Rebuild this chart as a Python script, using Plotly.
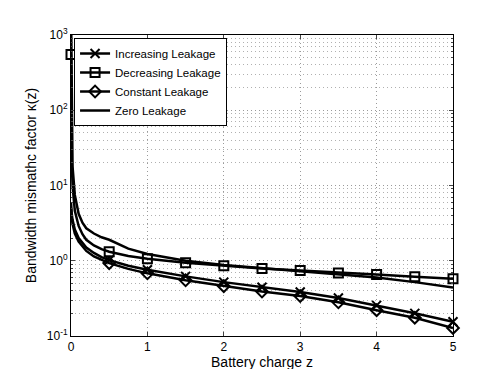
import plotly.graph_objects as go

# battery charge samples (dense, for the smooth curves)
z = [0, 0.001, 0.005, 0.01, 0.02, 0.05, 0.1, 0.15, 0.2, 0.3, 0.4, 0.5, 0.75, 1, 1.5, 2, 2.5, 3, 3.5, 4, 4.5, 5]

increasing = [6.0, 5.5, 4.8, 4.2, 3.5, 2.6, 2.0, 1.72, 1.5, 1.27, 1.12, 1.02, 0.86, 0.76, 0.62, 0.52, 0.445, 0.385, 0.32, 0.255, 0.2, 0.155]
decreasing = [550, 200, 50, 22, 10, 4.6, 2.9, 2.25, 1.9, 1.6, 1.43, 1.32, 1.16, 1.06, 0.94, 0.86, 0.79, 0.74, 0.69, 0.655, 0.615, 0.575]
constant = [5.0, 4.6, 4.2, 3.7, 3.1, 2.3, 1.8, 1.53, 1.35, 1.14, 1.02, 0.93, 0.78, 0.68, 0.55, 0.46, 0.39, 0.34, 0.28, 0.22, 0.175, 0.128]
zero = [None, 2000, 400, 70, 18, 7.5, 4.2, 3.2, 2.7, 2.3, 2.05, 1.9, 1.45, 1.23, 1.0, 0.88, 0.8, 0.73, 0.67, 0.6, 0.52, 0.44]

# markers are drawn every 0.5 (the z=0 one only shows for the decreasing curve)
marker_z = [0.5, 1, 1.5, 2, 2.5, 3, 3.5, 4, 4.5, 5]

y_ticks = [0.1, 1, 10, 100, 1000]
y_ticktext = ['10<sup>-1</sup>', '10<sup>0</sup>', '10<sup>1</sup>', '10<sup>2</sup>', '10<sup>3</sup>']

series = [
    ('Increasing Leakage', increasing, 'x-thin', False),
    ('Decreasing Leakage', decreasing, 'square-open', True),
    ('Constant Leakage', constant, 'diamond-open', False),
    ('Zero Leakage', zero, None, False),
]

fig = go.Figure()
for name, vals, sym, at_zero in series:
    fig.add_trace(go.Scatter(x=z, y=vals, mode='lines', line=dict(color='black', width=2.5),
                             showlegend=False, connectgaps=False))
    if sym:
        keep = [0] + marker_z if at_zero else marker_z
        mz = [x for x in z if x in keep]
        mv = [v for x, v in zip(z, vals) if x in keep]
        fig.add_trace(go.Scatter(x=mz, y=mv, mode='markers', showlegend=False, cliponaxis=False,
                                 marker=dict(symbol=sym, size=9, color='black',
                                             line=dict(color='black', width=2))))
        fig.add_trace(go.Scatter(x=[None], y=[None], mode='lines+markers', name=name,
                                 line=dict(color='black', width=2.5),
                                 marker=dict(symbol=sym, size=9, color='black',
                                             line=dict(color='black', width=2))))
    else:
        fig.add_trace(go.Scatter(x=[None], y=[None], mode='lines', name=name,
                                 line=dict(color='black', width=2.5)))

grid = dict(showgrid=True, gridcolor='#9a9a9a', griddash='1px,3px', gridwidth=1)

fig.update_layout(
    width=491, height=369,
    margin=dict(l=63, r=46, t=27, b=41, autoexpand=False),
    paper_bgcolor='white', plot_bgcolor='white',
    font=dict(family='Liberation Sans, Arial, sans-serif', size=12, color='black'),
    showlegend=True,
    legend=dict(x=0.008, y=0.99, xanchor='left', yanchor='top',
                bgcolor='white', bordercolor='black', borderwidth=1,
                font=dict(size=11.5), tracegroupgap=0, itemwidth=30),
)
fig.update_xaxes(range=[0, 5], tickvals=[0, 1, 2, 3, 4, 5], ticks='inside', ticklen=4,
                 showline=True, linecolor='black', linewidth=1, mirror='ticks', automargin=False,
                 zeroline=False, title=dict(text='Battery charge z', standoff=2), **grid)
fig.update_yaxes(type='log', range=[-1, 3], tickvals=y_ticks, ticktext=y_ticktext,
                 ticks='inside', ticklen=4, automargin=False,
                 showline=True, linecolor='black', linewidth=1, mirror='ticks',
                 minor=dict(showgrid=True, gridcolor='#b0b0b0', griddash='1px,3px', ticks='inside', ticklen=2,
                            tickvals=[a * b for b in [0.1, 1, 10, 100] for a in range(2, 10)]),
                 zeroline=False, title=dict(text='Bandwidth mismathc factor κ(z)', standoff=6), **grid)

fig.write_html("out.html")
